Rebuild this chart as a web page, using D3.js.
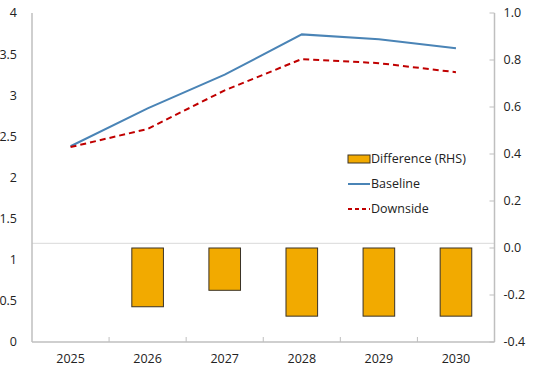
<!DOCTYPE html>
<html>
<head>
<meta charset="utf-8">
<script src="https://cdn.jsdelivr.net/npm/d3@7"></script>
<style>
  body { margin: 0; background: #fff; }
  text { font-family: "Open Sans", "Noto Sans", sans-serif; font-size: 12.5px; fill: #222; }
</style>
</head>
<body>
<svg id="chart"></svg>
<script>
var viewWidth = 534;
var viewHeight = 372;

// data
var years = ["2025", "2026", "2027", "2028", "2029", "2030"];
var baseline = [2.38, 2.84, 3.25, 3.74, 3.68, 3.57];
var downside = [2.37, 2.59, 3.06, 3.44, 3.39, 3.28];
var difference = [null, -0.25, -0.18, -0.29, -0.29, -0.29];
var leftTicks = [0, 0.5, 1, 1.5, 2, 2.5, 3, 3.5, 4];
var rightTicks = [-0.4, -0.2, 0.0, 0.2, 0.4, 0.6, 0.8, 1.0];
var refLine = 1.2;

var margin = {top: 13, right: 39.5, bottom: 30, left: 32};
var width = viewWidth - margin.left - margin.right;
var height = viewHeight - margin.top - margin.bottom;

var svg = d3.select("#chart")
    .attr("width", viewWidth)
    .attr("height", viewHeight)
  .append("g")
    .attr("transform", "translate(" + margin.left + "," + margin.top + ")");

var x = d3.scaleBand().domain(years).range([0, width]);
var y = d3.scaleLinear().domain([0, 4]).range([height, 0]);
var y2 = d3.scaleLinear().domain([-0.4, 1.0]).range([height, 0]);

var axisColor = "#bfbfbf";

// gray horizontal line
svg.append("line")
    .attr("x1", 0).attr("x2", width)
    .attr("y1", y(refLine)).attr("y2", y(refLine))
    .style("stroke", "#d9d9d9").style("stroke-width", 1);

// bars (right axis)
var barW = x.bandwidth() * 0.41;
svg.selectAll(".bar")
    .data(years.map(function(d, i) { return {year: d, v: difference[i]}; })
      .filter(function(d) { return d.v != null; }))
  .enter().append("rect")
    .attr("class", "bar")
    .attr("x", function(d) { return x(d.year) + x.bandwidth() / 2 - barW / 2; })
    .attr("y", function(d) { return y2(0); })
    .attr("width", barW)
    .attr("height", function(d) { return y2(d.v) - y2(0); })
    .style("fill", "#f2aa00")
    .style("stroke", "#3a3226")
    .style("stroke-width", 1);

var line = d3.line()
    .x(function(d, i) { return x(years[i]) + x.bandwidth() / 2; })
    .y(function(d) { return y(d); });

svg.append("path")
    .datum(baseline)
    .attr("d", line)
    .style("fill", "none")
    .style("stroke", "#4a84b6")
    .style("stroke-width", 2);

svg.append("path")
    .datum(downside)
    .attr("d", line)
    .style("fill", "none")
    .style("stroke", "#c00000")
    .style("stroke-width", 2)
    .style("stroke-dasharray", "6,4");

// axes lines
svg.append("line")
    .attr("x1", 0).attr("x2", 0).attr("y1", 0).attr("y2", height)
    .style("stroke", axisColor).style("stroke-width", 1.5);
svg.append("line")
    .attr("x1", width).attr("x2", width).attr("y1", 0).attr("y2", height)
    .style("stroke", axisColor).style("stroke-width", 1.5);
svg.append("line")
    .attr("x1", 0).attr("x2", width).attr("y1", height).attr("y2", height)
    .style("stroke", axisColor).style("stroke-width", 1.5);

// x ticks at category boundaries
svg.selectAll(".xtick")
    .data(years.slice(1))
  .enter().append("line")
    .attr("x1", function(d) { return x(d); })
    .attr("x2", function(d) { return x(d); })
    .attr("y1", height - 5).attr("y2", height)
    .style("stroke", axisColor);

svg.selectAll(".xlabel")
    .data(years)
  .enter().append("text")
    .attr("x", function(d) { return x(d) + x.bandwidth() / 2; })
    .attr("y", height + 21)
    .style("text-anchor", "middle")
    .text(function(d) { return d; });

// left labels
svg.selectAll(".ylabel")
    .data(leftTicks)
  .enter().append("text")
    .attr("x", -15)
    .attr("y", function(d) { return y(d); })
    .attr("dy", "0.35em")
    .style("text-anchor", "end")
    .text(function(d) { return d; });

// right ticks and labels
svg.selectAll(".y2tick")
    .data(rightTicks)
  .enter().append("line")
    .attr("x1", width - 5).attr("x2", width)
    .attr("y1", function(d) { return y2(d); })
    .attr("y2", function(d) { return y2(d); })
    .style("stroke", axisColor);

svg.selectAll(".y2label")
    .data(rightTicks)
  .enter().append("text")
    .attr("x", width + 9)
    .attr("y", function(d) { return y2(d); })
    .attr("dy", "0.35em")
    .style("text-anchor", "start")
    .text(function(d) { return d.toFixed(1); });

// legend
var legend = svg.append("g").attr("transform", "translate(316,146)");
legend.append("rect")
    .attr("x", 0).attr("y", -4).attr("width", 22).attr("height", 8)
    .style("fill", "#f2aa00").style("stroke", "#3a3226");
legend.append("text").attr("x", 23).attr("y", 0).attr("dy", "0.35em").text("Difference (RHS)");
legend.append("line")
    .attr("x1", 0).attr("x2", 22).attr("y1", 25).attr("y2", 25)
    .style("stroke", "#4a84b6").style("stroke-width", 2);
legend.append("text").attr("x", 23).attr("y", 25).attr("dy", "0.35em").text("Baseline");
legend.append("line")
    .attr("x1", 0).attr("x2", 22).attr("y1", 50).attr("y2", 50)
    .style("stroke", "#c00000").style("stroke-width", 2)
    .style("stroke-dasharray", "4,3");
legend.append("text").attr("x", 23).attr("y", 50).attr("dy", "0.35em").text("Downside");
</script>
</body>
</html>
